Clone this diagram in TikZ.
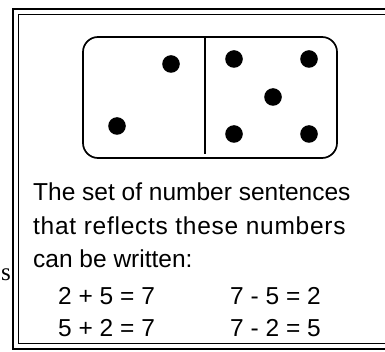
\documentclass[tikz,border=0pt]{standalone}
\usepackage{fontspec}
\setmainfont{Liberation Sans}
\newfontfamily\serifs{Liberation Serif}
\usepackage{tikz}
\tikzset{
  frameout/.style = {line width=2pt},
  framein/.style  = {line width=1pt},
  tile/.style     = {draw, line width=1.7pt, rounded corners=15pt},
  pip/.style      = {fill=black},
  sentence/.style = {anchor=base west, inner sep=0pt,
                     font=\fontsize{24.5}{29}\selectfont},
  stray/.style    = {anchor=base west, inner sep=0pt,
                     font=\serifs\fontsize{25}{30}\selectfont},
}

\begin{document}
\begin{tikzpicture}[x=1pt, y=-1pt]
  \fill[white] (0,0) rectangle (385,352);
  \useasboundingbox (0,0) rectangle (385,352);
  \clip (0,0) rectangle (385,352);

  % double frame, open to the right
  \draw[frameout] (390,9) -- (12.5,9) -- (12.5,348.5) -- (390,348.5);
  \draw[framein]  (390,15) -- (18,15) -- (18,343.5) -- (390,343.5);

  % domino tile
  \draw[tile] (83,37) rectangle (337,158);
  \draw[line width=1.7pt] (205,37) -- (205,154);
  \foreach \px/\py in {171/64, 117/126,
                       234/59, 309/59, 273/97, 234/134, 309/134}
    \fill[pip] (\px,\py) circle (8.8pt);

  \node[stray]    (s)  at (1,280)  {s};
  \node[sentence] (l1) at (33,201) {The set of number sentences};
  \node[sentence, font=\addfontfeature{LetterSpace=3}\fontsize{24.5}{29}\selectfont]
                  (l2) at (33,235) {that reflects these numbers};
  \node[sentence] (l3) at (33,268) {can be written:};
  \node[sentence] (e1) at (58,304) {2 + 5 = 7};
  \node[sentence] (e2) at (58,336) {5 + 2 = 7};
  \node[sentence] (e3) at (230,304) {7 - 5 = 2};
  \node[sentence] (e4) at (230,336) {7 - 2 = 5};
\end{tikzpicture}
\end{document}
